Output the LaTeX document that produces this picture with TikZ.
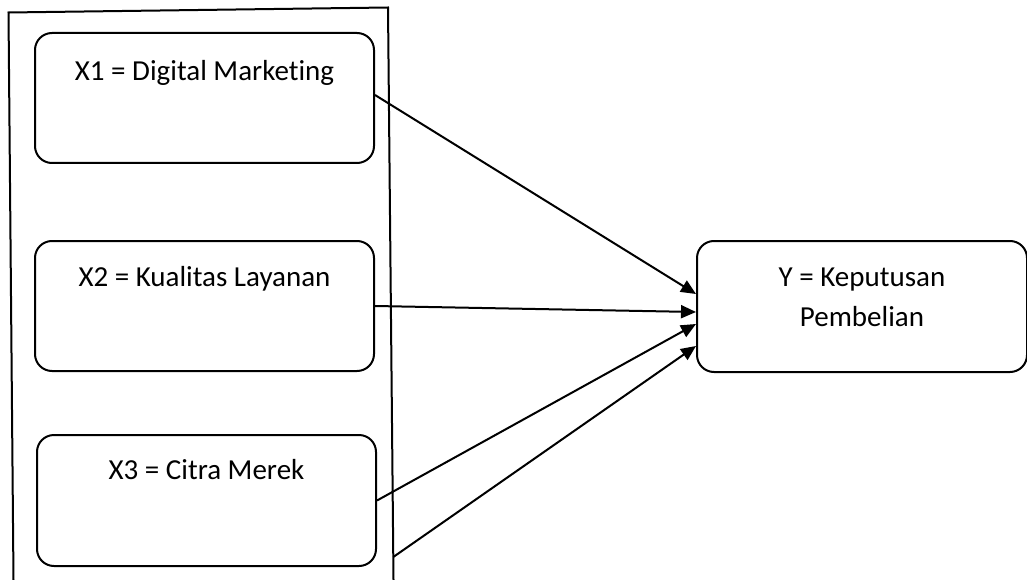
\documentclass[tikz,border=0pt]{standalone}
\usepackage{fontspec}
\setmainfont[Ligatures=NoCommon]{Carlito}
\usetikzlibrary{arrows.meta,positioning}

\begin{document}
\begin{tikzpicture}[
    x=1pt, y=-1pt,
    font=\fontsize{29}{40}\selectfont,
    link/.style={-{Triangle[length=15pt,width=13pt]}, line width=2pt},
    varbox/.style={draw, line width=2pt, rounded corners=17pt, inner sep=0pt,
      minimum width=339pt, align=center},
    xbox/.style={varbox, text height=45pt, text depth=85pt}
  ]
  \useasboundingbox (0,0) rectangle (1027,580);
  % frame round the independent variables
  \draw[line width=2pt] (13.5,580) -- (8.5,12.5) -- (388,7.5) -- (393.5,580);
  \coordinate (frame) at (393.3,557);

  \node[varbox, text height=48pt, text depth=82pt, anchor=north west] (x1) at (34,32) {X1 = Digital Marketing};
  \node[xbox, below=76pt of x1] (x2) {X2 = Kualitas Layanan};
  \node[varbox, text height=44pt, text depth=87pt, below=62pt of x2, xshift=2pt] (x3) {X3 = Citra Merek};
  \node[varbox, minimum width=330pt, text height=85pt, text depth=46pt, anchor=north west] (ypb) at (696,240) {Y = Keputusan\\Pembelian};

  \draw[link] ([yshift=3pt]x1.east) -- ([yshift=12.5pt]ypb.west);
  \draw[link] (x2.east) -- ([yshift=-5.5pt]ypb.west);
  \draw[link] (x3.east) -- ([yshift=-17.5pt]ypb.west);
  \draw[link] (frame) -- ([yshift=-39.5pt]ypb.west);
\end{tikzpicture}
\end{document}
